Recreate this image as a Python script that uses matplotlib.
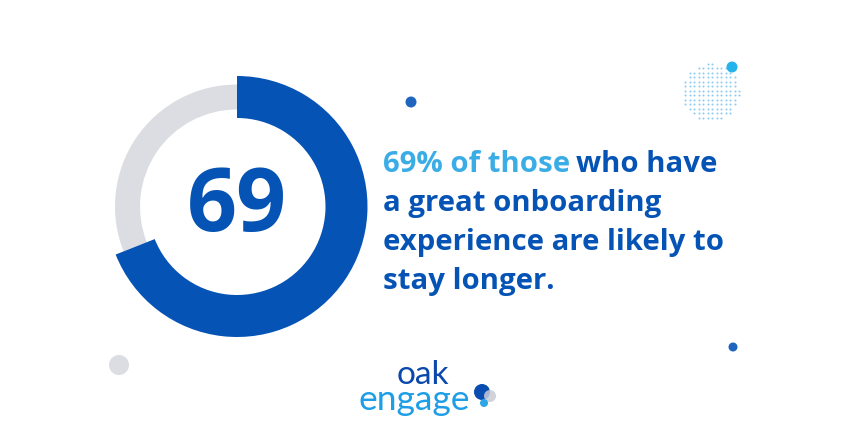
import numpy as np
import matplotlib.pyplot as plt

# данные
share = 69
rest = 100 - share
line1_a = "69% of those"
line1_b = "who have"
other_lines = ["a great onboarding", "experience are likely to", "stay longer."]

BLUE = "#0553b5"
LIGHT = "#3aace6"
GRAY = "#dcdde2"
FONT = "Open Sans"

W, H = 850, 446
fig = plt.figure(figsize=(8.5, 4.46), dpi=100)
ax = fig.add_axes([0, 0, 1, 1])

cx, cy = 237, H - 206.5

# серое кольцо (фон)
ax.pie([share, rest], center=(cx, cy), radius=122, startangle=90,
       counterclock=False, colors=["none", GRAY],
       wedgeprops=dict(width=25, linewidth=0))
# синяя дуга
ax.pie([share, rest], center=(cx, cy), radius=130.5, startangle=90,
       counterclock=False, colors=[BLUE, "none"],
       wedgeprops=dict(width=42, linewidth=0))

ax.text(cx, cy - 2, str(share), ha="center", va="center", fontsize=63,
        fontweight="bold", family=FONT, color=BLUE)

# текст справа
fs = 21.2
t1 = ax.text(383, H - 172, line1_a, fontsize=fs, fontweight="bold",
             family=FONT, color=LIGHT, va="baseline")
ax.annotate(line1_b, xy=(1, 0), xycoords=t1, xytext=(4.5, 0),
            textcoords="offset points", fontsize=fs, fontweight="bold",
            family=FONT, color=BLUE, va="bottom")
for i, s in enumerate(other_lines):
    ax.text(383, H - 172 - 39 * (i + 1), s, fontsize=fs, fontweight="bold",
            family=FONT, color=BLUE, va="baseline")

# декоративные точки
ax.add_patch(plt.Circle((119, H - 365), 10, color=GRAY, lw=0))
ax.add_patch(plt.Circle((411, H - 102), 5.5, color="#1f65c0", lw=0))
ax.add_patch(plt.Circle((733, H - 347), 4.5, color="#1f65c0", lw=0))

# точечный круг
gx, gy = np.meshgrid(np.arange(-30, 31, 4.5), np.arange(-30, 31, 4.5))
m = gx ** 2 + gy ** 2 <= 29 ** 2
ax.scatter(711 + gx[m], H - 92 + gy[m], s=2.2, color="#8fcdf2", lw=0)
ax.add_patch(plt.Circle((732, H - 67), 5.5, color="#26b3ec", lw=0))

# логотип
ax.text(423, H - 384, "oak", ha="center", va="baseline", fontsize=24,
        fontweight="normal", family="Lato", color="#0a48ad")
ax.text(414, H - 410, "engage", ha="center", va="baseline", fontsize=25.5,
        fontweight="normal", family="Lato", color="#1e9ee6")
ax.add_patch(plt.Circle((482, H - 392), 8, color="#0a4db0", lw=0))
ax.add_patch(plt.Circle((490, H - 396), 6, color="#c8cbd6", alpha=0.85, lw=0))
ax.add_patch(plt.Circle((484, H - 403), 4, color="#2ea6e6", lw=0))

ax.set_xlim(0, W)
ax.set_ylim(0, H)
ax.set_aspect("equal")
ax.axis("off")

fig.savefig("out.png", dpi=100, facecolor="white")
